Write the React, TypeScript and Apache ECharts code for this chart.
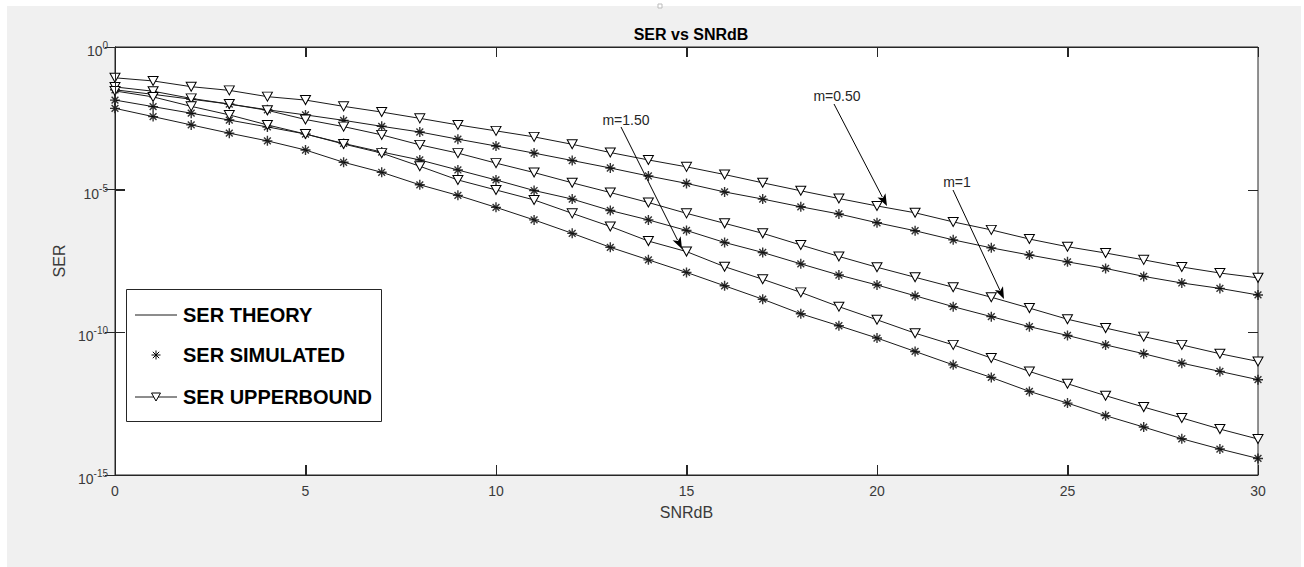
import { useEffect, useRef } from "react";
import * as echarts from "echarts";

// SNR in dB (x axis)
const snrDb = [0, 1, 2, 3, 4, 5, 6, 7, 8, 9, 10, 11, 12, 13, 14, 15, 16, 17, 18, 19, 20, 21, 22, 23, 24, 25, 26, 27, 28, 29, 30];
const xTicks = [0, 5, 10, 15, 20, 25, 30];
const yTicks = [1, 1e-5, 1e-10, 1e-15];

// m = 0.50
const serUpperM050 = [8.32e-2, 6.46e-2, 4.07e-2, 3.02e-2, 1.82e-2, 1.38e-2, 8.32e-3, 5.25e-3, 3.16e-3, 1.86e-3, 1.15e-3, 7.08e-4, 3.89e-4, 2.0e-4, 1.1e-4, 6.31e-5, 3.39e-5, 1.74e-5, 9.12e-6, 4.9e-6, 2.69e-6, 1.55e-6, 7.41e-7, 3.89e-7, 1.86e-7, 1.0e-7, 6.03e-8, 3.47e-8, 1.95e-8, 1.2e-8, 8.13e-9];
const serTheoryM050 = [3.16e-2, 2.19e-2, 1.48e-2, 1.0e-2, 6.31e-3, 4.17e-3, 2.69e-3, 1.66e-3, 1.05e-3, 5.89e-4, 3.39e-4, 1.91e-4, 1.05e-4, 5.75e-5, 3.02e-5, 1.66e-5, 8.32e-6, 4.68e-6, 2.51e-6, 1.41e-6, 6.92e-7, 3.63e-7, 1.74e-7, 9.12e-8, 5.13e-8, 2.95e-8, 1.74e-8, 9.12e-9, 5.37e-9, 3.47e-9, 2.04e-9];
const serSimM050 = [3.16e-2, 2.19e-2, 1.48e-2, 1.0e-2, 6.31e-3, 4.17e-3, 2.69e-3, 1.66e-3, 1.05e-3, 5.89e-4, 3.39e-4, 1.91e-4, 1.05e-4, 5.75e-5, 3.02e-5, 1.66e-5, 8.32e-6, 4.68e-6, 2.51e-6, 1.41e-6, 6.92e-7, 3.63e-7, 1.74e-7, 9.12e-8, 5.13e-8, 2.95e-8, 1.74e-8, 9.12e-9, 5.37e-9, 3.47e-9, 2.04e-9];

// m = 1
const serUpperM100 = [3.98e-2, 2.82e-2, 1.58e-2, 1.0e-2, 6.03e-3, 2.88e-3, 1.62e-3, 8.32e-4, 3.72e-4, 1.91e-4, 8.51e-5, 3.98e-5, 1.74e-5, 7.94e-6, 3.55e-6, 1.48e-6, 6.61e-7, 2.95e-7, 1.15e-7, 4.57e-8, 1.91e-8, 8.51e-9, 3.8e-9, 1.7e-9, 7.08e-10, 2.88e-10, 1.41e-10, 7.08e-11, 3.63e-11, 1.78e-11, 9.55e-12];
const serTheoryM100 = [1.38e-2, 8.13e-3, 4.79e-3, 2.75e-3, 1.58e-3, 8.91e-4, 4.17e-4, 2.09e-4, 1.1e-4, 4.9e-5, 2.19e-5, 9.33e-6, 4.68e-6, 1.86e-6, 8.71e-7, 3.72e-7, 1.41e-7, 6.31e-8, 2.51e-8, 1.02e-8, 4.57e-9, 1.91e-9, 7.94e-10, 3.55e-10, 1.58e-10, 7.76e-11, 3.63e-11, 1.78e-11, 8.32e-12, 4.27e-12, 2.19e-12];
const serSimM100 = [1.38e-2, 8.13e-3, 4.79e-3, 2.75e-3, 1.58e-3, 8.91e-4, 4.17e-4, 2.09e-4, 1.1e-4, 4.9e-5, 2.19e-5, 9.33e-6, 4.68e-6, 1.86e-6, 8.71e-7, 3.72e-7, 1.41e-7, 6.31e-8, 2.51e-8, 1.02e-8, 4.57e-9, 1.91e-9, 7.94e-10, 3.55e-10, 1.58e-10, 7.76e-11, 3.63e-11, 1.78e-11, 8.32e-12, 4.27e-12, 2.19e-12];

// m = 1.50
const serUpperM150 = [2.88e-2, 1.78e-2, 8.32e-3, 4.17e-3, 1.86e-3, 8.91e-4, 3.98e-4, 1.91e-4, 6.61e-5, 2.19e-5, 9.77e-6, 4.37e-6, 1.48e-6, 5.13e-7, 1.58e-7, 6.76e-8, 2.0e-8, 7.24e-9, 2.51e-9, 7.94e-10, 2.75e-10, 9.33e-11, 3.63e-11, 1.26e-11, 4.27e-12, 1.58e-12, 6.03e-13, 2.4e-13, 1.0e-13, 4.07e-14, 1.82e-14];
const serTheoryM150 = [7.08e-3, 3.63e-3, 1.86e-3, 9.55e-4, 5.13e-4, 2.45e-4, 9.12e-5, 4.07e-5, 1.48e-5, 6.31e-6, 2.4e-6, 8.71e-7, 2.95e-7, 9.55e-8, 3.47e-8, 1.26e-8, 4.27e-9, 1.45e-9, 4.47e-10, 1.7e-10, 6.31e-11, 2.14e-11, 7.24e-12, 2.63e-12, 8.51e-13, 3.31e-13, 1.2e-13, 4.79e-14, 1.86e-14, 8.13e-15, 3.8e-15];
const serSimM150 = [7.08e-3, 3.63e-3, 1.86e-3, 9.55e-4, 5.13e-4, 2.45e-4, 9.12e-5, 4.07e-5, 1.48e-5, 6.31e-6, 2.4e-6, 8.71e-7, 2.95e-7, 9.55e-8, 3.47e-8, 1.26e-8, 4.27e-9, 1.45e-9, 4.47e-10, 1.7e-10, 6.31e-11, 2.14e-11, 7.24e-12, 2.63e-12, 8.51e-13, 3.31e-13, 1.2e-13, 4.79e-14, 1.86e-14, 8.13e-15, 3.8e-15];

const legendLabels = ["SER THEORY", "SER SIMULATED", "SER UPPERBOUND"];
const annotationLabels = ["m=1.50", "m=0.50", "m=1"];

const FONT = "'Liberation Sans', Arial, Helvetica, sans-serif";
const AXIS = "#262626";
const LBL = "#3a3a3a";
const LINE = "#1a1a1a";
const STAR = "path://M5,0L5,10M0,5L10,5M1.6,1.6L8.4,8.4M1.6,8.4L8.4,1.6";

const pairs = (ys: number[]) => snrDb.map((x, i) => [x, ys[i]]);

function arrow(sx: number, sy: number, tx: number, ty: number) {
  const dx = tx - sx;
  const dy = ty - sy;
  const len = Math.sqrt(dx * dx + dy * dy);
  const ux = dx / len;
  const uy = dy / len;
  const hl = 12;
  const hw = 4.5;
  const bx = tx - ux * hl;
  const by = ty - uy * hl;
  return [
    {
      type: "line",
      shape: { x1: sx, y1: sy, x2: bx + ux * 2, y2: by + uy * 2 },
      style: { stroke: "#000", lineWidth: 1 },
      z: 20,
      silent: true,
    },
    {
      type: "polygon",
      shape: {
        points: [
          [tx, ty],
          [bx - uy * hw, by + ux * hw],
          [bx + ux * 3, by + uy * 3],
          [bx + uy * hw, by - ux * hw],
        ],
      },
      style: { fill: "#000" },
      z: 20,
      silent: true,
    },
  ];
}

export default function App() {
  const ref = useRef<HTMLDivElement>(null);

  useEffect(() => {
    if (!ref.current) return;
    const chart = echarts.init(ref.current, undefined, { renderer: "svg" });

    const axisLine = { show: true, lineStyle: { color: AXIS, width: 1 } };
    const axisTick = { show: true, inside: true, length: 10, lineStyle: { color: AXIS, width: 1 } };

    const theoryStyle = {
      type: "line" as const,
      name: legendLabels[0],
      symbol: "none",
      lineStyle: { color: LINE, width: 1 },
      z: 2,
    };
    const simStyle = {
      type: "scatter" as const,
      name: legendLabels[1],
      symbol: STAR,
      symbolSize: 10,
      itemStyle: { color: "transparent", borderColor: "#000", borderWidth: 1.4 },
      z: 3,
    };
    const upperStyle = {
      type: "line" as const,
      name: legendLabels[2],
      symbol: "triangle",
      symbolRotate: 180,
      symbolSize: [10, 9],
      showSymbol: true,
      lineStyle: { color: LINE, width: 1 },
      itemStyle: { color: "#fff", borderColor: "#000", borderWidth: 1 },
      z: 4,
    };

    const graphic: any[] = [
      {
        type: "rect",
        shape: { x: 7, y: 6, width: 1294, height: 561 },
        style: { fill: "#f0f0f0" },
        z: -10,
        silent: true,
      },
      {
        type: "rect",
        shape: { x: 658, y: 4, width: 4, height: 4 },
        style: { fill: "#fff", stroke: "#bbb", lineWidth: 1 },
        z: 1,
        silent: true,
      },
      {
        type: "text",
        x: 626,
        y: 120,
        style: { text: annotationLabels[0], font: `14px ${FONT}`, fill: "#262626", align: "center", verticalAlign: "middle" },
        z: 20,
      },
      {
        type: "text",
        x: 837,
        y: 96,
        style: { text: annotationLabels[1], font: `14px ${FONT}`, fill: "#262626", align: "center", verticalAlign: "middle" },
        z: 20,
      },
      {
        type: "text",
        x: 957,
        y: 182,
        style: { text: annotationLabels[2], font: `14px ${FONT}`, fill: "#262626", align: "center", verticalAlign: "middle" },
        z: 20,
      },
      ...arrow(621, 127, 682, 249),
      ...arrow(834, 104, 887, 206),
      ...arrow(953, 190, 1004, 299),
      // legend box
      {
        type: "rect",
        shape: { x: 126.5, y: 289.5, width: 255, height: 132 },
        style: { fill: "#fff", stroke: "#262626", lineWidth: 1 },
        z: 30,
        silent: true,
      },
      {
        type: "line",
        shape: { x1: 135, y1: 315, x2: 177, y2: 315 },
        style: { stroke: LINE, lineWidth: 1 },
        z: 31,
      },
      {
        type: "text",
        x: 183,
        y: 315,
        style: { text: legendLabels[0], font: `bold 20px ${FONT}`, fill: "#000", verticalAlign: "middle" },
        z: 31,
      },
      {
        type: "group",
        x: 156,
        y: 355,
        z: 31,
        children: [
          { type: "line", shape: { x1: 0, y1: -4.5, x2: 0, y2: 4.5 }, style: { stroke: "#000", lineWidth: 1 }, z: 31 },
          { type: "line", shape: { x1: -4.5, y1: 0, x2: 4.5, y2: 0 }, style: { stroke: "#000", lineWidth: 1 }, z: 31 },
          { type: "line", shape: { x1: -3.2, y1: -3.2, x2: 3.2, y2: 3.2 }, style: { stroke: "#000", lineWidth: 1 }, z: 31 },
          { type: "line", shape: { x1: -3.2, y1: 3.2, x2: 3.2, y2: -3.2 }, style: { stroke: "#000", lineWidth: 1 }, z: 31 },
        ],
      },
      {
        type: "text",
        x: 183,
        y: 355,
        style: { text: legendLabels[1], font: `bold 20px ${FONT}`, fill: "#000", verticalAlign: "middle" },
        z: 31,
      },
      {
        type: "line",
        shape: { x1: 135, y1: 397, x2: 177, y2: 397 },
        style: { stroke: LINE, lineWidth: 1 },
        z: 31,
      },
      {
        type: "polygon",
        shape: { points: [[151.5, 393], [160.5, 393], [156, 401]] },
        style: { fill: "#fff", stroke: "#000", lineWidth: 1 },
        z: 32,
      },
      {
        type: "text",
        x: 183,
        y: 397,
        style: { text: legendLabels[2], font: `bold 20px ${FONT}`, fill: "#000", verticalAlign: "middle" },
        z: 31,
      },
    ];

    chart.setOption({
      animation: false,
      backgroundColor: "#fff",
      textStyle: { fontFamily: FONT },
      title: {
        text: "SER vs SNRdB",
        left: 686,
        top: 21,
        textAlign: "center",
        textStyle: { fontSize: 16, fontWeight: "bold", color: "#000", fontFamily: FONT },
      },
      grid: {
        left: 115,
        top: 47,
        width: 1143,
        height: 428,
        show: true,
        backgroundColor: "#fff",
        borderColor: AXIS,
        borderWidth: 1,
        containLabel: false,
      },
      xAxis: [
        {
          type: "value",
          min: 0,
          max: 30,
          interval: 5,
          position: "bottom",
          z: 10,
          axisLine,
          axisTick,
          splitLine: { show: false },
          axisLabel: { fontSize: 14, color: LBL, margin: 9, fontFamily: FONT },
          name: "SNRdB",
          nameLocation: "middle",
          nameGap: 29,
          nameTextStyle: { fontSize: 16, color: LBL, fontFamily: FONT },
        },
        {
          type: "value",
          min: 0,
          max: 30,
          interval: 5,
          position: "top",
          z: 10,
          axisLine,
          axisTick,
          splitLine: { show: false },
          axisLabel: { show: false },
        },
      ],
      yAxis: [
        {
          type: "log",
          logBase: 10,
          min: 1e-15,
          max: 1,
          interval: 5,
          position: "left",
          z: 10,
          axisLine,
          axisTick,
          splitLine: { show: false },
          minorTick: { show: false },
          axisLabel: {
            margin: 7,
            formatter: (v: number) => `{b|10}{s|${Math.round(Math.log10(v))}}`,
            rich: {
              b: { fontSize: 14, color: LBL, fontFamily: FONT, verticalAlign: "bottom", lineHeight: 22 },
              s: { fontSize: 10, color: LBL, fontFamily: FONT, verticalAlign: "top", lineHeight: 22, height: 19 },
            },
          },
          name: "SER",
          nameLocation: "middle",
          nameGap: 47,
          nameTextStyle: { fontSize: 16, color: LBL, fontFamily: FONT },
        },
        {
          type: "log",
          logBase: 10,
          min: 1e-15,
          max: 1,
          interval: 5,
          position: "right",
          z: 10,
          axisLine,
          axisTick,
          splitLine: { show: false },
          minorTick: { show: false },
          axisLabel: { show: false },
        },
      ],
      series: [
        { ...theoryStyle, data: pairs(serTheoryM050) },
        { ...theoryStyle, data: pairs(serTheoryM100) },
        { ...theoryStyle, data: pairs(serTheoryM150) },
        { ...upperStyle, data: pairs(serUpperM050) },
        { ...upperStyle, data: pairs(serUpperM100) },
        { ...upperStyle, data: pairs(serUpperM150) },
        { ...simStyle, data: pairs(serSimM050) },
        { ...simStyle, data: pairs(serSimM100) },
        { ...simStyle, data: pairs(serSimM150) },
      ],
      graphic,
    });

    // Inner tick marks (box style), positioned through the chart's own axes.
    const tickLen = 10;
    const gTop = 47;
    const gBottom = 475;
    const gLeft = 115;
    const gRight = 1258;
    const tickStyle = { stroke: AXIS, lineWidth: 1, fill: null };
    const tickEls: any[] = [];
    xTicks.forEach((t) => {
      const raw = chart.convertToPixel({ xAxisIndex: 0 }, t) as any;
      const px = Array.isArray(raw) ? raw[0] : Number(raw);
      const x = Math.round(px) + 0.5;
      tickEls.push({ type: "polyline", shape: { points: [[x, gBottom], [x, gBottom - tickLen]] }, style: tickStyle, z: 40, silent: true });
      tickEls.push({ type: "polyline", shape: { points: [[x, gTop], [x, gTop + tickLen]] }, style: tickStyle, z: 40, silent: true });
    });
    yTicks.forEach((t) => {
      const raw = chart.convertToPixel({ yAxisIndex: 0 }, t) as any;
      const py = Array.isArray(raw) ? raw[1] : Number(raw);
      const y = Math.round(py) + 0.5;
      tickEls.push({ type: "polyline", shape: { points: [[gLeft, y], [gLeft + tickLen, y]] }, style: tickStyle, z: 40, silent: true });
      tickEls.push({ type: "polyline", shape: { points: [[gRight, y], [gRight - tickLen, y]] }, style: tickStyle, z: 40, silent: true });
    });
    chart.setOption({ graphic: [...graphic, ...tickEls] });

    return () => {
      chart.dispose();
    };
  }, []);

  return (
    <div
      ref={ref}
      style={{ position: "absolute", left: 0, top: 0, width: 1304, height: 567 }}
    />
  );
}
